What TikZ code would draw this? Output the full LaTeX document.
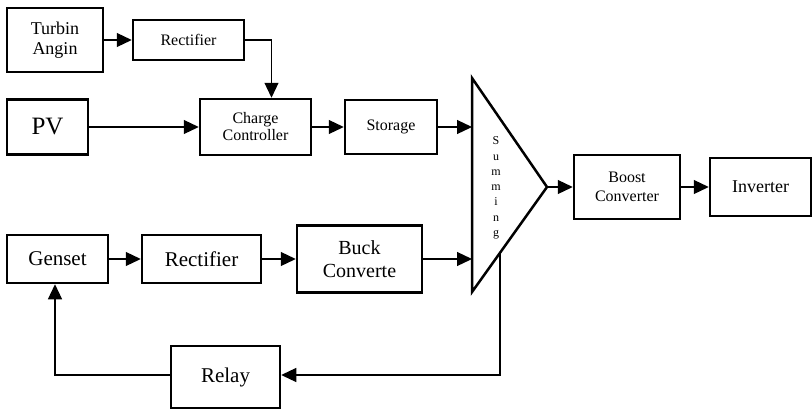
\documentclass[tikz,border=0pt]{standalone}
\usepackage{fontspec}
\setmainfont{Liberation Serif}
\usetikzlibrary{arrows.meta, calc}

\begin{document}
\begin{tikzpicture}[x=1pt, y=-1pt,
  blok/.style={draw, line width=2.5pt, align=center, inner sep=1pt},
  arrow/.style={-{Triangle[length=15pt, width=14pt]}, line width=1.2pt}
]
  \useasboundingbox (0,0) rectangle (812,410);

  % sumber energi
  \node[blok, minimum width=96pt, minimum height=64pt, font=\fontsize{18}{20}\selectfont] (turbin) at (55,40) {Turbin\\Angin};
  \node[blok, minimum width=111pt, minimum height=40pt, font=\fontsize{16}{18}\selectfont] (rectA) at (188.5,40) {Rectifier};
  \node[blok, minimum width=81pt, minimum height=55pt, font=\fontsize{25}{28}\selectfont] (pv) at (47.5,127) {PV};
  \node[blok, minimum width=111pt, minimum height=56pt, font=\fontsize{16}{17}\selectfont] (cc) at (255.5,127) {Charge\\Controller};
  \node[blok, minimum width=92pt, minimum height=54pt, font=\fontsize{16}{18}\selectfont] (storage) at (391,127) {Storage};

  % genset
  \node[blok, minimum width=101pt, minimum height=48pt, font=\fontsize{21}{23}\selectfont] (genset) at (57.5,259) {Genset};
  \node[blok, minimum width=119pt, minimum height=48pt, font=\fontsize{21}{23}\selectfont] (rectB) at (201.5,259) {Rectifier};
  \node[blok, minimum width=125pt, minimum height=67pt, font=\fontsize{20}{23}\selectfont] (buck) at (359.5,259) {Buck\\Converte};
  \node[blok, minimum width=109pt, minimum height=62pt, font=\fontsize{21}{23}\selectfont] (relay) at (225.5,377) {Relay};

  % output
  \node[blok, minimum width=106pt, minimum height=64pt, font=\fontsize{16}{19}\selectfont] (boost) at (627,187) {Boost\\Converter};
  \node[blok, minimum width=101pt, minimum height=58pt, font=\fontsize{18}{20}\selectfont] (inverter) at (760.5,187) {Inverter};

  % summing
  \coordinate (sumTop) at (472,78);
  \coordinate (sumOut) at (547,187);
  \coordinate (sumBot) at (472,292);
  \coordinate (sumA) at (472,127);
  \coordinate (sumB) at (472,259);
  \coordinate (sumFb) at ($(sumOut)!0.627!(sumBot)$);
  \draw[line width=2.5pt, line join=miter] (sumTop) -- (sumOut) -- (sumBot) -- cycle;
  \node[align=center, inner sep=0pt, font=\fontsize{12}{15.3}\selectfont] (sumlabel) at (496,188) {S\\u\\m\\m\\i\\n\\g};

  \draw[arrow] (turbin) -- (rectA);
  \draw[arrow] (rectA.east) -| ([xshift=16pt]cc.north);
  \draw[arrow] (pv) -- (cc);
  \draw[arrow] (cc) -- (storage);
  \draw[arrow] (storage) -- (sumA);
  \draw[arrow] (genset) -- (rectB);
  \draw[arrow] (rectB) -- (buck);
  \draw[arrow] (buck) -- (sumB);
  \draw[arrow] (sumOut) -- (boost);
  \draw[arrow] (boost) -- (inverter);
  \draw[arrow] (sumFb) |- ([yshift=2pt]relay.east);
  \draw[arrow] ([yshift=2pt]relay.west) -| ([xshift=-2.5pt]genset.south);
\end{tikzpicture}
\end{document}
